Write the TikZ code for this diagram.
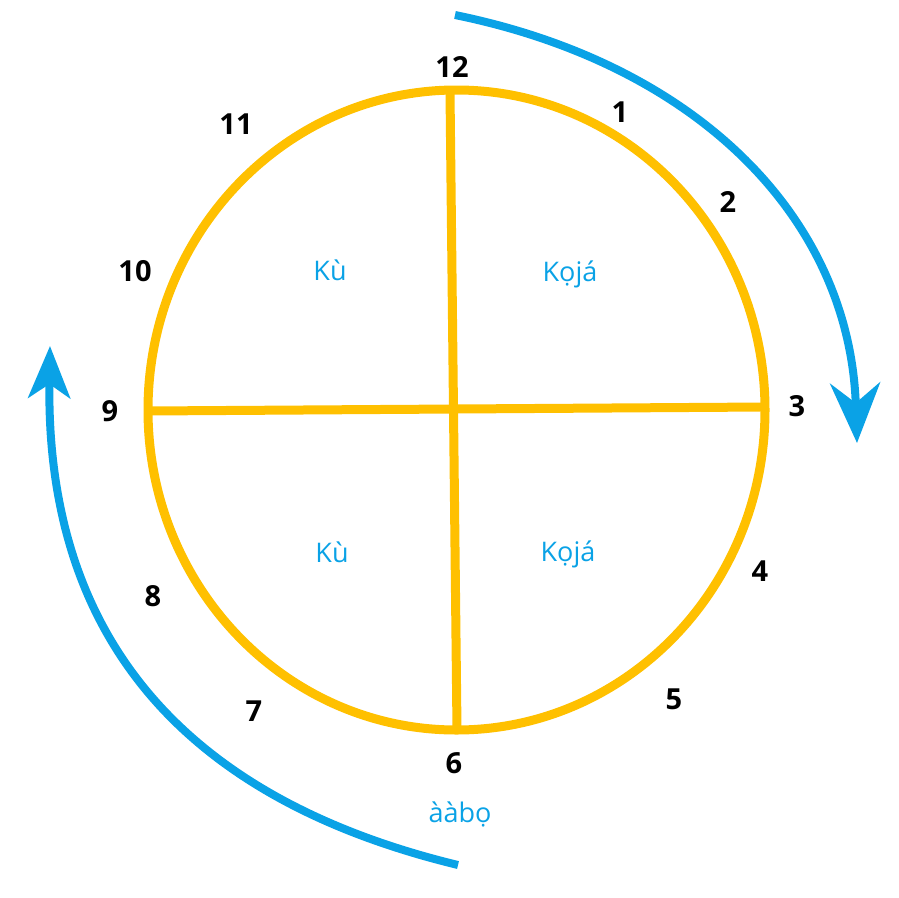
\documentclass[tikz,border=0pt]{standalone}
\usepackage{fontspec}
\setmainfont{Open Sans}
\usepackage{tikz}
\usetikzlibrary{arrows.meta}
\definecolor{cgold}{HTML}{FFC000}
\definecolor{cblue}{HTML}{0AA2E6}
\begin{document}
\begin{tikzpicture}[
  x=1pt,y=-1pt,
  rim/.style={draw=cgold,line width=9pt},
  num/.style={font=\bfseries\fontsize{29}{34}\selectfont,text=black},
  word/.style={font=\fontsize{27}{32}\selectfont,text=cblue},
  turn/.style={draw=cblue,line width=8pt}
]
\useasboundingbox (0,0) rectangle (899,897);
% clock face
\draw[rim] (456.5,410) ellipse [x radius=308.5,y radius=320];
\coordinate (top) at (450,92);
\coordinate (bot) at (457,730);
\coordinate (lft) at (148,411);
\coordinate (rgt) at (765,407);
\draw[rim] (top) -- (bot);
\draw[rim] (lft) -- (rgt);
% hours
\node[num] (h12) at (452,67) {12};
\node[num] (h1) at (620,112) {1};
\node[num] (h2) at (728,202) {2};
\node[num] (h3) at (797,406) {3};
\node[num] (h4) at (760,571) {4};
\node[num] (h5) at (674,699) {5};
\node[num] (h6) at (454,763) {6};
\node[num] (h7) at (254,711) {7};
\node[num] (h8) at (153,596) {8};
\node[num] (h9) at (110,411) {9};
\node[num] (h10) at (135,271) {10};
\node[num] (h11) at (236,124) {11};
% quarters
\node[word] (ku1) at (330,270) {Kù};
\node[word] (koja1) at (570,274) {Kọjá};
\node[word] (ku2) at (332,552) {Kù};
\node[word] (koja2) at (568,554) {Kọjá};
\node[word] (aabo) at (460,814) {ààbọ};
% turning arrows
\coordinate (rs) at (455,15);
\coordinate (re) at (857,443);
\coordinate (ls) at (458,865);
\coordinate (le) at (50,346);
\draw[turn,-{Stealth[length=60pt,width=50pt,inset=20pt]}] (rs) .. controls (700,65) and (850,220) .. (re);
\draw[turn,-{Stealth[length=52pt,width=42pt,inset=14pt]}] (ls) .. controls (210,805) and (45,660) .. (le);
\end{tikzpicture}
\end{document}
